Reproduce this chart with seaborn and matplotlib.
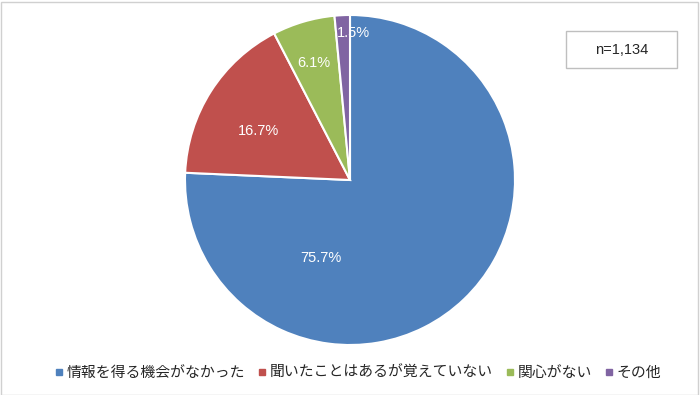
import matplotlib
matplotlib.use("Agg")
import matplotlib.pyplot as plt
import seaborn as sns
from matplotlib.patches import Rectangle
from matplotlib.lines import Line2D

sns.set_theme(style="white")
plt.rcParams['font.family'] = ['Noto Sans CJK JP', 'DejaVu Sans']

categories = ["情報を得る機会がなかった", "聞いたことはあるが覚えていない", "関心がない", "その他"]
values = [75.7, 16.7, 6.1, 1.5]
value_labels = ["75.7%", "16.7%", "6.1%", "1.5%"]
colors = ["#4F81BD", "#C0504D", "#9BBB59", "#8064A2"]
n_text = "n=1,134"

fig = plt.figure(figsize=(7, 3.95), dpi=100)
W, H = 700, 395
cx, cy, r = 350, 180, 165
ax = fig.add_axes([(cx - r) / W, (H - cy - r) / H, 2 * r / W, 2 * r / H])
ax.pie(values, colors=colors, startangle=90, counterclock=False, radius=1,
       wedgeprops=dict(edgecolor="white", linewidth=1.5))
ax.set_xlim(-1, 1)
ax.set_ylim(-1, 1)
ax.set_aspect("equal")
ax.axis("off")

label_pos = [(-0.176, -0.473), (-0.552, 0.297), (-0.218, 0.709), (0.018, 0.891)]
for (x, y), t in zip(label_pos, value_labels):
    ax.text(x, y, t, color="white", fontsize=10.5, ha="center", va="center",
            family=['Liberation Sans', 'DejaVu Sans'])

# n box
fig.patches.append(Rectangle((566 / W, 1 - 68 / H), 111 / W, 37 / H, transform=fig.transFigure,
                             facecolor="white", edgecolor="#BFBFBF", linewidth=1))
fig.text(621.5 / W, 1 - 49.5 / H, n_text, ha="center", va="center", fontsize=10.5,
         family=['Liberation Sans', 'DejaVu Sans'])

# outer border
fig.patches.append(Rectangle((0.5 / W, 0.5 / H), (W - 3) / W, (H - 2) / H, transform=fig.transFigure,
                             facecolor="none", edgecolor="#D0D0D0", linewidth=1))

handles = [Line2D([0], [0], marker="s", linestyle="none", markersize=5,
                  markerfacecolor=c, markeredgecolor=c) for c in colors]
fig.legend(handles, categories, loc="center", bbox_to_anchor=(357 / W, 1 - 373 / H), ncol=4,
           frameon=False, fontsize=10.7, handletextpad=0.1, columnspacing=0.75, handlelength=0.8)

fig.savefig("out.png", dpi=100)
